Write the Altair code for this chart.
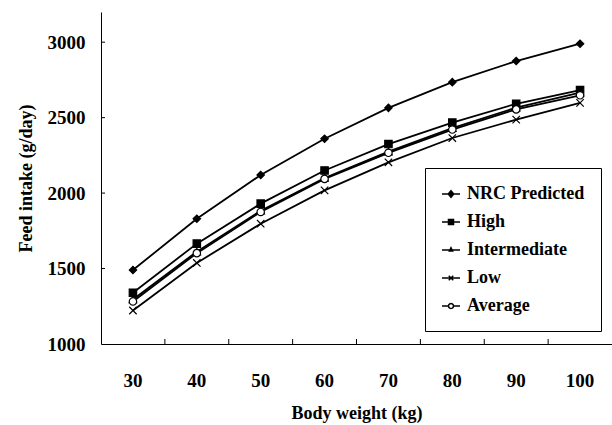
import altair as alt
import pandas as pd

# ---- data ----
body_weight = [30, 40, 50, 60, 70, 80, 90, 100]
series_names = ["NRC Predicted", "High", "Intermediate", "Low", "Average"]
nrc = [1490, 1830, 2120, 2360, 2565, 2735, 2875, 2990]
high = [1340, 1665, 1930, 2150, 2325, 2467, 2592, 2682]
intermediate = [1295, 1612, 1883, 2100, 2275, 2430, 2566, 2665]
low = [1222, 1537, 1797, 2018, 2204, 2365, 2487, 2598]
average = [1282, 1602, 1875, 2094, 2267, 2421, 2555, 2648]
y_ticks = [1000, 1500, 2000, 2500, 3000]
x_tick_edges = [40, 50, 60, 70, 80, 90, 100]

values = [nrc, high, intermediate, low, average]
rows = []
for name, vals in zip(series_names, values):
    for bw, v in zip(body_weight, vals):
        rows.append({"bw": bw, "intake": v, "series": name, "s": name})
df = pd.DataFrame(rows)

FONT = "Times New Roman, Liberation Serif, serif"
W, H = 511, 332

xenc = alt.X("bw:O", scale=alt.Scale(type="band", paddingInner=0, paddingOuter=0),
             axis=alt.Axis(title="Body weight (kg)", labelAngle=0, ticks=False,
                           labelPadding=27, titlePadding=14))
yenc = alt.Y("intake:Q", scale=alt.Scale(domain=[1000, 3200], nice=False, zero=False),
             axis=alt.Axis(title="Feed intake (g/day)", values=y_ticks, ticks=False,
                           grid=False, labelPadding=16, titlePadding=12, format="d"))

lines = alt.Chart(df).mark_line(color="black", strokeWidth=1.8).encode(
    x=xenc, y=yenc, detail="series:N")

# chart markers
marker_shapes = ["diamond", "square", "triangle-up",
                 "M-1,-1L1,1M-1,1L1,-1", "circle"]
marker_fill = ["black", "black", "black", "transparent", "white"]
marker_size = [55, 55, 16, 30, 36]
points = alt.Chart(df).mark_point(opacity=1, stroke="black", strokeWidth=1.2).encode(
    x=alt.X("bw:O"), y=alt.Y("intake:Q"),
    shape=alt.Shape("s:N", scale=alt.Scale(domain=series_names, range=marker_shapes), legend=None),
    fill=alt.Fill("s:N", scale=alt.Scale(domain=series_names, range=marker_fill), legend=None),
    size=alt.Size("s:N", scale=alt.Scale(domain=series_names, range=marker_size), legend=None),
)

# legend symbols: line + marker
legend_shapes = [
    "M-1,0H1M0,-0.36L0.3,0L0,0.36L-0.3,0Z",
    "M-1,0H1M-0.28,-0.28H0.28V0.28H-0.28Z",
    "M-1,0H1M0,-0.25L0.18,0.12H-0.18Z",
    "M-1,0H1M-0.25,-0.25L0.25,0.25M-0.25,0.25L0.25,-0.25",
    "M-1,0H-0.28M0.28,0H1M0.28,0L0.242,0.14L0.14,0.242L0,0.28L-0.14,0.242L-0.242,0.14"
    "L-0.28,0L-0.242,-0.14L-0.14,-0.242L0,-0.28L0.14,-0.242L0.242,-0.14Z",
]
legend_fill = ["black", "black", "black", "black", "white"]
legend_stroke = ["black"] * 5
legend_layer = alt.Chart(df).transform_filter("datum.intake < 0").mark_point(
    opacity=1, strokeWidth=1.5, size=324).encode(
    x=alt.X("bw:O"), y=alt.Y("intake:Q"),
    shape=alt.Shape("series:N", title=None,
                    scale=alt.Scale(domain=series_names, range=legend_shapes),
                    legend=alt.Legend(title=None, orient="none", legendX=324, legendY=156,
                                      strokeColor="black", padding=16, rowPadding=9,
                                      symbolSize=324, symbolStrokeColor="black",
                                      symbolStrokeWidth=1.5, symbolOpacity=1, labelOffset=6,
                                      labelFont=FONT, labelFontSize=18,
                                      labelFontWeight="bold", labelColor="black")),
    fill=alt.Fill("series:N", title=None,
                  scale=alt.Scale(domain=series_names, range=legend_fill)),
    stroke=alt.Stroke("series:N", title=None,
                      scale=alt.Scale(domain=series_names, range=legend_stroke)),
)

# inward tick marks
xt = pd.DataFrame({"bw": x_tick_edges})
x_ticks = alt.Chart(xt).mark_rule(color="black", strokeWidth=1).encode(
    x=alt.X("bw:O", bandPosition=0), y=alt.value(H - 5), y2=alt.value(H))
yt = pd.DataFrame({"intake": y_ticks[1:]})
y_tick_marks = alt.Chart(yt).mark_rule(color="black", strokeWidth=1).encode(
    y=alt.Y("intake:Q"), x=alt.value(0), x2=alt.value(4))

chart = alt.layer(lines, points, legend_layer, x_ticks, y_tick_marks).resolve_scale(
    shape="independent", fill="independent", size="independent", stroke="independent"
).properties(
    width=W, height=H,
    autosize=alt.AutoSizeParams(type="none"),
    padding={"left": 101, "top": 12, "right": 0, "bottom": 81},
).configure_view(stroke="transparent").configure_axis(
    labelFont=FONT, labelFontSize=19, labelFontWeight="bold", labelColor="black",
    titleFont=FONT, titleFontSize=18, titleFontWeight="bold", titleColor="black",
    domainColor="black", domainWidth=1, grid=False,
).configure_legend(strokeWidth=1)

chart.save("out.html", embed_options={"renderer": "svg", "actions": False})
